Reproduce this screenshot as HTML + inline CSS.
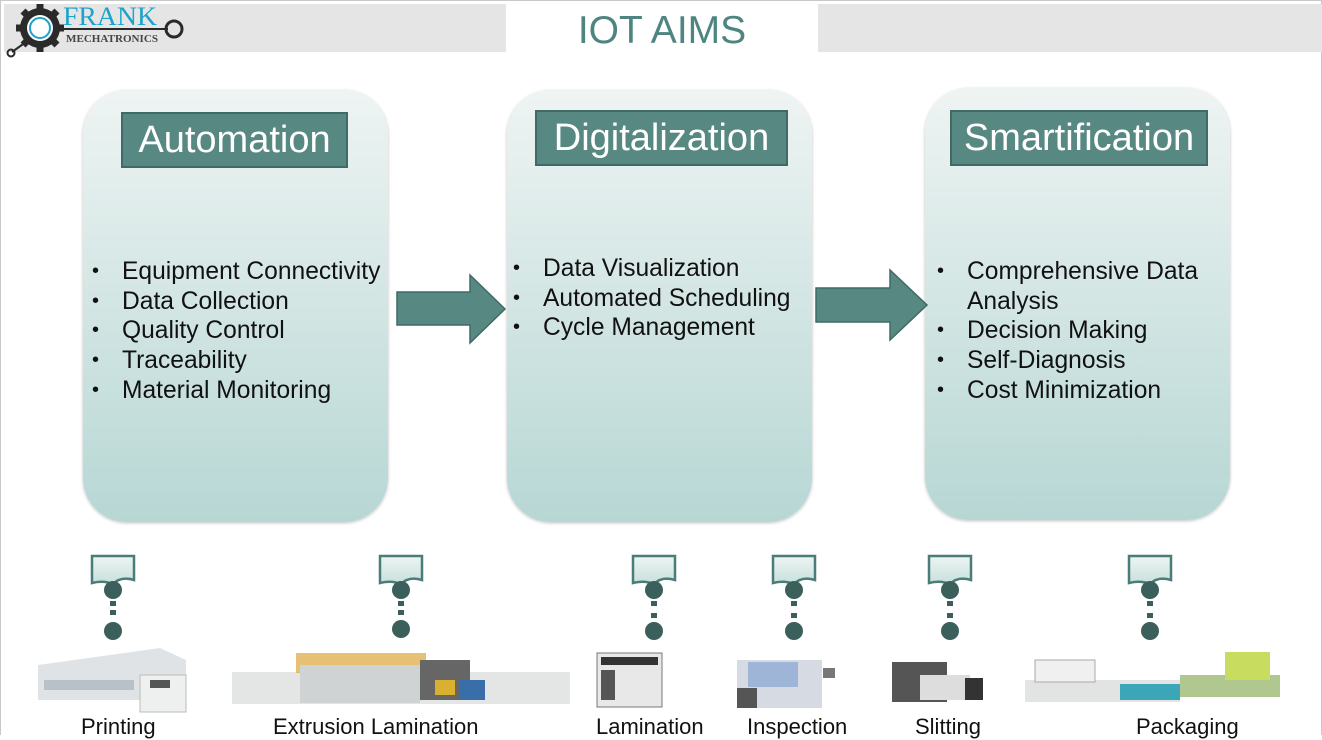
<!DOCTYPE html>
<html><head><meta charset="utf-8"><style>
*{margin:0;padding:0;box-sizing:border-box}
body{width:1322px;height:735px;overflow:hidden;background:#fff;font-family:"Liberation Sans",Arial,sans-serif;position:relative}
.abs{position:absolute}
.frame{left:0;top:0;width:1322px;height:735px;border:1px solid #c8c8c8;border-bottom:none}
.band{top:4px;height:48px;background:#e5e5e5}
.title{left:506px;top:9px;width:312px;text-align:center;font-size:39px;color:#4f8580}
.card{width:305px;height:432px;border-radius:44px;background:linear-gradient(#eef4f3,#b7d7d4);box-shadow:0 1px 3px rgba(0,0,0,.25)}
.hbox{background:#578882;border:2px solid #3f6a66;color:#fff;font-size:38px;text-align:center;line-height:52px;height:56px;white-space:nowrap}
ul{position:absolute;list-style:none;font-size:24.6px;color:#111;line-height:29.7px;white-space:nowrap}
li{position:relative;padding-left:30px}
li:before{content:"•";position:absolute;left:0;font-size:20px}
.lbl{font-size:22px;color:#111;top:714px;white-space:nowrap}
</style></head><body>
<div class="abs frame"></div>
<div class="abs band" style="left:4px;width:502px"></div>
<div class="abs band" style="left:818px;width:504px"></div>
<svg class="abs" style="left:2px;top:2px" width="190" height="56" viewBox="0 0 190 56">
<g fill="#2a2a2a"><circle cx="38" cy="26" r="20"/>
<g stroke="#2a2a2a" stroke-width="7"><line x1="38" y1="2" x2="38" y2="50"/><line x1="14" y1="26" x2="62" y2="26"/><line x1="21" y1="9" x2="55" y2="43"/><line x1="55" y1="9" x2="21" y2="43"/></g></g>
<circle cx="38" cy="26" r="13" fill="#fff"/><circle cx="38" cy="26" r="10" fill="none" stroke="#1ba3cc" stroke-width="2"/>
<line x1="10" y1="50" x2="24" y2="40" stroke="#2a2a2a" stroke-width="2"/><circle cx="9" cy="51" r="3.5" fill="none" stroke="#2a2a2a" stroke-width="2"/>
<text x="61" y="23" font-family="Liberation Serif" font-size="26" fill="#1ba3cc" textLength="94" lengthAdjust="spacingAndGlyphs">FRANK</text>
<line x1="62" y1="27" x2="166" y2="27" stroke="#2a2a2a" stroke-width="2"/>
<circle cx="172" cy="27" r="8" fill="none" stroke="#2a2a2a" stroke-width="3"/>
<text x="64" y="40" font-family="Liberation Serif" font-weight="bold" font-size="11" fill="#444" textLength="92" lengthAdjust="spacingAndGlyphs">MECHATRONICS</text>
</svg>
<div class="abs title">IOT AIMS</div>

<div class="abs card" style="left:83px;top:90px"></div>
<div class="abs card" style="left:507px;top:90px"></div>
<div class="abs card" style="left:925px;top:88px"></div>
<div class="abs hbox" style="left:121px;top:112px;width:227px">Automation</div>
<div class="abs hbox" style="left:535px;top:110px;width:253px">Digitalization</div>
<div class="abs hbox" style="left:950px;top:110px;width:258px">Smartification</div>

<ul style="left:92px;top:257px"><li>Equipment Connectivity</li><li>Data Collection</li><li>Quality Control</li><li>Traceability</li><li>Material Monitoring</li></ul>
<ul style="left:513px;top:254px"><li>Data Visualization</li><li>Automated Scheduling</li><li>Cycle Management</li></ul>
<ul style="left:937px;top:257px"><li>Comprehensive Data<br>Analysis</li><li>Decision Making</li><li>Self-Diagnosis</li><li>Cost Minimization</li></ul>

<svg class="abs" style="left:0;top:0" width="1322" height="735">
<defs><linearGradient id="cg2" x1="0" y1="0" x2="0" y2="1"><stop offset="0" stop-color="#eef5f3"/><stop offset="1" stop-color="#c7e0dd"/></linearGradient></defs>
<polygon points="397,292 470,292 470,275 505,309 470,343 470,325 397,325" fill="#578882" stroke="#3f6a66" stroke-width="1.5"/>
<polygon points="816,288 890,288 890,270 927,305 890,340 890,322 816,322" fill="#578882" stroke="#3f6a66" stroke-width="1.5"/>
<g fill="#3b5f5b">
<g transform="translate(113,0)"><path d="M-21,556 H21 V580 Q8,576 0,584 Q-10,580 -21,583 Z" fill="url(#cg2)" stroke="#4a7d78" stroke-width="2.5"/><circle cx="0" cy="590" r="9"/><rect x="-3" y="601" width="6" height="5"/><rect x="-3" y="610" width="6" height="5"/><circle cx="0" cy="631" r="9"/></g>
<g transform="translate(401,0)"><path d="M-21,556 H21 V580 Q8,576 0,584 Q-10,580 -21,583 Z" fill="url(#cg2)" stroke="#4a7d78" stroke-width="2.5"/><circle cx="0" cy="590" r="9"/><rect x="-3" y="601" width="6" height="5"/><rect x="-3" y="610" width="6" height="5"/><circle cx="0" cy="629" r="9"/></g>
<g transform="translate(654,0)"><path d="M-21,556 H21 V580 Q8,576 0,584 Q-10,580 -21,583 Z" fill="url(#cg2)" stroke="#4a7d78" stroke-width="2.5"/><circle cx="0" cy="590" r="9"/><rect x="-3" y="601" width="6" height="5"/><rect x="-3" y="613" width="6" height="5"/><circle cx="0" cy="631" r="9"/></g>
<g transform="translate(794,0)"><path d="M-21,556 H21 V580 Q8,576 0,584 Q-10,580 -21,583 Z" fill="url(#cg2)" stroke="#4a7d78" stroke-width="2.5"/><circle cx="0" cy="590" r="9"/><rect x="-3" y="601" width="6" height="5"/><rect x="-3" y="613" width="6" height="5"/><circle cx="0" cy="631" r="9"/></g>
<g transform="translate(950,0)"><path d="M-21,556 H21 V580 Q8,576 0,584 Q-10,580 -21,583 Z" fill="url(#cg2)" stroke="#4a7d78" stroke-width="2.5"/><circle cx="0" cy="590" r="9"/><rect x="-3" y="601" width="6" height="5"/><rect x="-3" y="613" width="6" height="5"/><circle cx="0" cy="631" r="9"/></g>
<g transform="translate(1150,0)"><path d="M-21,556 H21 V580 Q8,576 0,584 Q-10,580 -21,583 Z" fill="url(#cg2)" stroke="#4a7d78" stroke-width="2.5"/><circle cx="0" cy="590" r="9"/><rect x="-3" y="601" width="6" height="5"/><rect x="-3" y="613" width="6" height="5"/><circle cx="0" cy="631" r="9"/></g>
</g>
<g>
<polygon points="38,665 160,648 186,660 186,712 140,712 140,700 38,700" fill="#dfe3e6"/>
<rect x="140" y="675" width="46" height="37" fill="#eef0f0" stroke="#bbb"/>
<rect x="44" y="680" width="90" height="10" fill="#b8c0c8"/>
<rect x="150" y="680" width="20" height="8" fill="#555"/>
<rect x="232" y="672" width="338" height="32" fill="#e4e6e6"/>
<rect x="296" y="653" width="130" height="20" fill="#e0b050" opacity=".8"/>
<rect x="300" y="665" width="120" height="38" fill="#cfd3d3"/>
<rect x="420" y="660" width="50" height="40" fill="#666"/>
<rect x="435" y="680" width="20" height="15" fill="#d9b030"/>
<rect x="460" y="680" width="25" height="20" fill="#3a6ea8"/>
<rect x="597" y="653" width="65" height="54" fill="#e8e8e8" stroke="#777"/>
<rect x="601" y="657" width="57" height="8" fill="#333"/><rect x="601" y="670" width="14" height="30" fill="#555"/>
<rect x="737" y="660" width="85" height="48" fill="#d6dbe3"/><rect x="748" y="662" width="50" height="25" fill="#9fb5d8"/><rect x="737" y="688" width="20" height="20" fill="#555"/><rect x="823" y="668" width="12" height="10" fill="#777"/>
<rect x="892" y="662" width="55" height="40" fill="#555"/><rect x="920" y="675" width="50" height="25" fill="#ddd"/><rect x="965" y="678" width="18" height="22" fill="#333"/>
<rect x="1025" y="680" width="155" height="22" fill="#e2e4e4"/><rect x="1035" y="660" width="60" height="22" fill="#f0f0f0" stroke="#aaa"/>
<rect x="1120" y="684" width="60" height="16" fill="#3aa6b8"/><rect x="1180" y="675" width="100" height="22" fill="#b0c890"/><rect x="1225" y="652" width="45" height="28" fill="#c8dc60"/>
</g>
</svg>
<div class="abs lbl" style="left:81px">Printing</div>
<div class="abs lbl" style="left:273px">Extrusion Lamination</div>
<div class="abs lbl" style="left:596px">Lamination</div>
<div class="abs lbl" style="left:747px">Inspection</div>
<div class="abs lbl" style="left:915px">Slitting</div>
<div class="abs lbl" style="left:1136px">Packaging</div>
</body></html>
